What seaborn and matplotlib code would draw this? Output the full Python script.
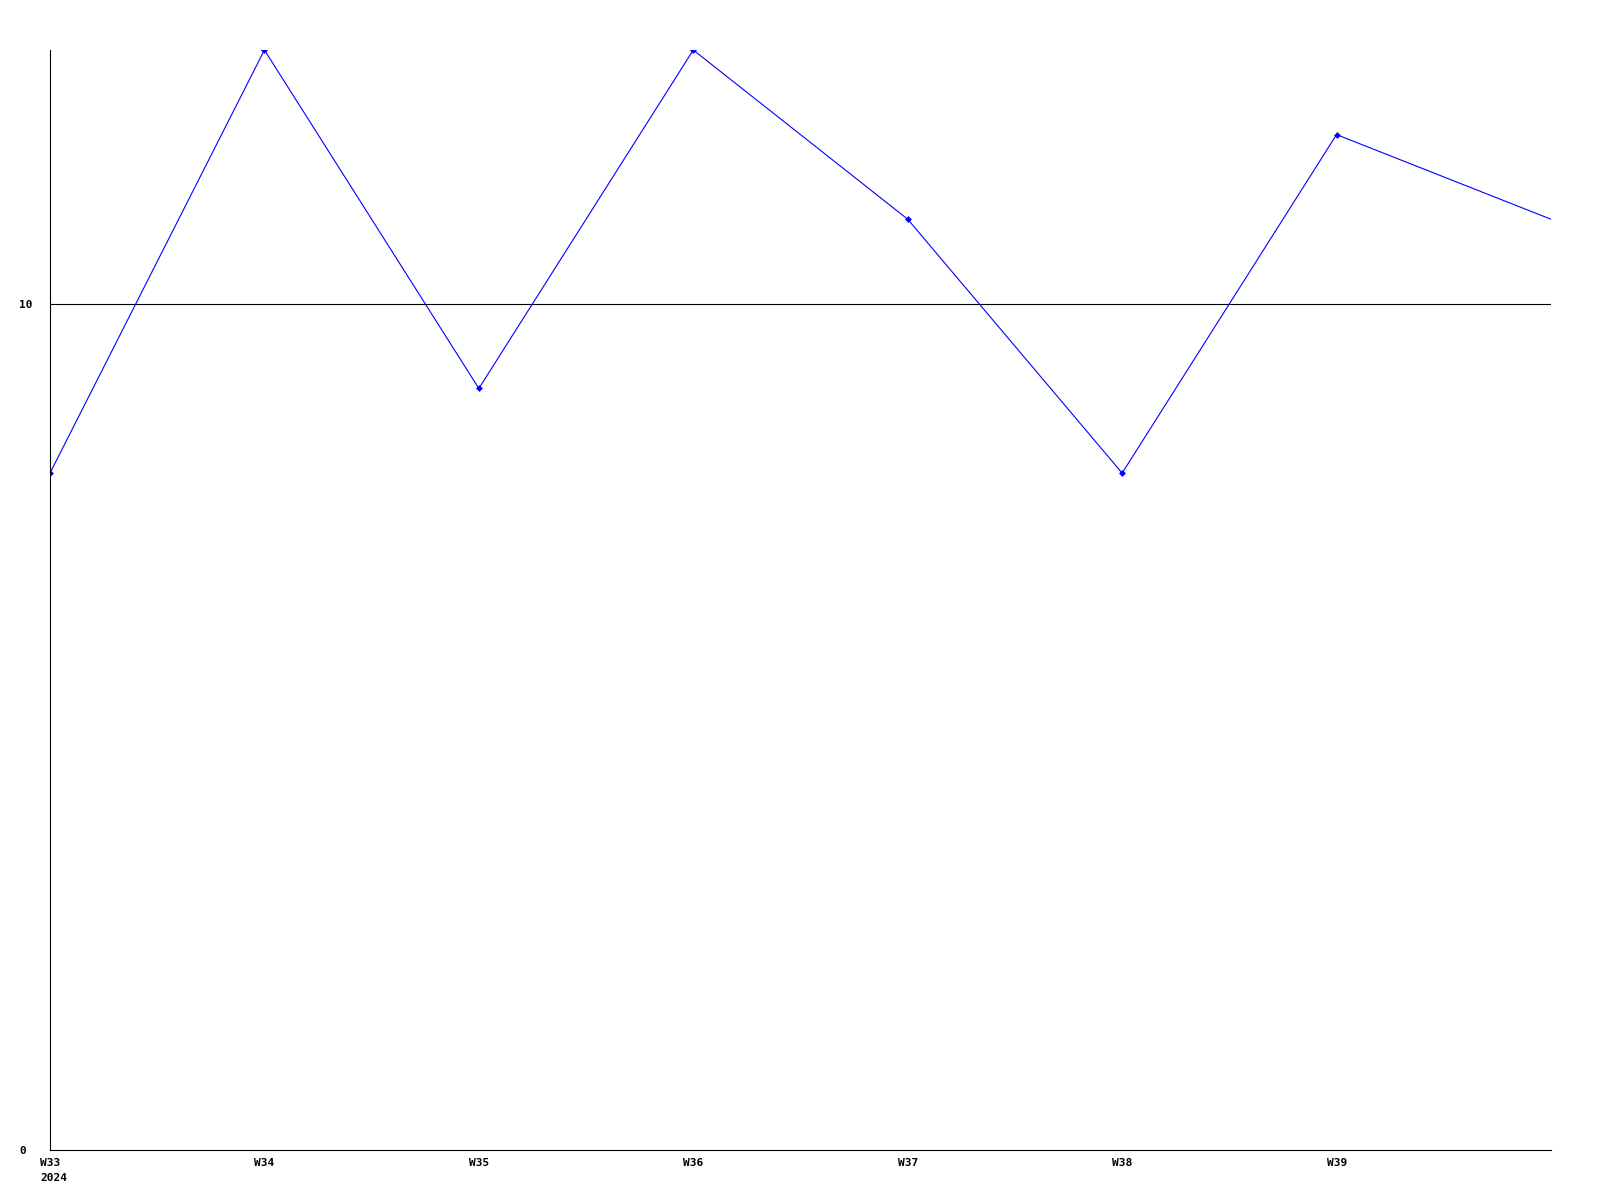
import matplotlib
matplotlib.use("Agg")
import matplotlib.pyplot as plt
import matplotlib.transforms as mtransforms
import seaborn as sns
import pandas as pd

weeks = ["W33", "W34", "W35", "W36", "W37", "W38", "W39", "W40"]
weekLabels = ["W33\n2024", "W34", "W35", "W36", "W37", "W38", "W39", ""]
values = [8, 13, 9, 13, 11, 8, 12, 11]
yTicks = [0, 10]

df = pd.DataFrame({"pos": range(len(weeks)), "value": values})

sns.set_style("white")
plt.rcParams["font.family"] = ["DejaVu Sans Mono"]

fig = plt.figure(figsize=(16, 12), dpi=100)
ax = fig.add_axes([50 / 1600, 50 / 1200, 1501 / 1600, 1100 / 1200])

sns.lineplot(data=df, x="pos", y="value", ax=ax, color="#0000ff", linewidth=0.8,
             marker="D", markersize=3.5, markevery=list(range(len(weeks) - 1)),
             markeredgewidth=0)

ax.set_xlim(0, len(weeks) - 1)
ax.set_ylim(0, 13)
ax.set_xticks(range(len(weeks)))
ax.set_xticklabels(weekLabels, fontsize=8, fontweight="bold", ha="left",
                   linespacing=1.6, color="black")
ax.set_yticks(yTicks)
ax.set_yticklabels([str(t) for t in yTicks], fontsize=8, fontweight="bold",
                   color="black", ha="left")
ax.tick_params(axis="x", length=0, pad=6)
ax.tick_params(axis="y", length=0, pad=22)
ax.set_xlabel("")
ax.set_ylabel("")

# shift week labels a bit left of their point, like the original
shift = mtransforms.ScaledTranslation(-10 / 100, 0, fig.dpi_scale_trans)
for lbl in ax.get_xticklabels():
    lbl.set_transform(lbl.get_transform() + shift)

for t in yTicks[1:]:
    ax.axhline(t, color="black", linewidth=0.8, zorder=1)

for side in ["top", "right"]:
    ax.spines[side].set_visible(False)
for side in ["left", "bottom"]:
    ax.spines[side].set_color("black")
    ax.spines[side].set_linewidth(0.8)

fig.savefig("out.png", dpi=100)
